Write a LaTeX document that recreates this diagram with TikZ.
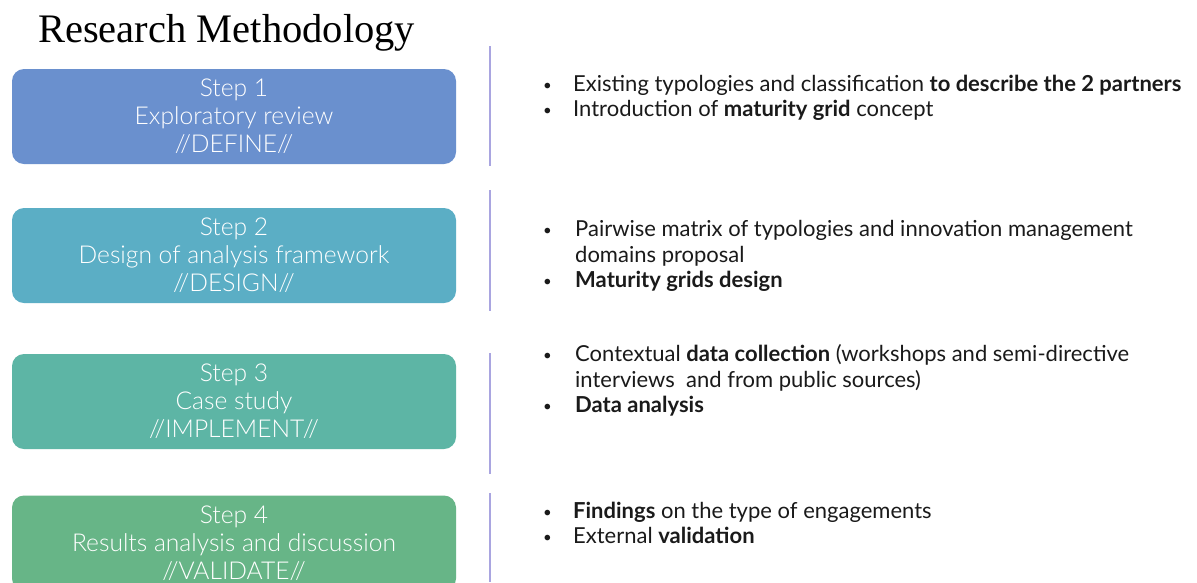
\documentclass[tikz,border=0pt]{standalone}
\usepackage{fontspec}
\setmainfont{Lato}
\newfontfamily\boxfont{Lato Light}
\newfontfamily\titlefont{Liberation Serif}
\definecolor{cone}{HTML}{6A90CE}
\definecolor{ctwo}{HTML}{5BAEC5}
\definecolor{cthree}{HTML}{5DB5A5}
\definecolor{cfour}{HTML}{67B587}
\definecolor{sepc}{HTML}{A9A5E0}
\definecolor{txt}{HTML}{1A1A1A}
\begin{document}
\begin{tikzpicture}[x=1pt,y=-1pt,
  stepbox/.style={rounded corners=12pt, minimum width=444pt, minimum height=95pt,
    inner sep=0pt, align=center, text=white,
    font=\boxfont\fontsize{24.6}{28}\selectfont},
  sepline/.style={draw=sepc, line width=1.3pt},
  bt/.style={anchor=base west, inner sep=0pt, text=txt,
    font=\fontsize{22}{25}\selectfont},
  bdot/.style={anchor=base west, inner sep=0pt, text=txt,
    font=\fontsize{15}{25}\selectfont}]
\useasboundingbox (0,0) rectangle (1197,582);
\clip (0,0) rectangle (1197,582);
\fill[white] (0,0) rectangle (1197,582);
\node[anchor=base west, inner sep=0pt, font=\titlefont\fontsize{40.5}{48}\selectfont] (title) at (38,42) {Research Methodology};
% boxes
\node[stepbox, fill=cone] (s1) at (234,116.5) {Step 1\\Exploratory review\\//DEFINE//};
\node[stepbox, fill=ctwo] (s2) at (234,255.5) {Step 2\\Design of analysis framework\\//DESIGN//};
\node[stepbox, fill=cthree] (s3) at (234,401.5) {Step 3\\Case study\\//IMPLEMENT//};
\node[stepbox, fill=cfour] (s4) at (234,543) {Step 4\\Results analysis and discussion\\//VALIDATE//};
% separators
\draw[sepline] (490,46) -- (490,166);
\draw[sepline] (490,190) -- (490,311);
\draw[sepline] (490,353) -- (490,474);
\draw[sepline] (490,493) -- (490,582);
% bullets 1
\node[bdot] (d11) at (543,90.5) {•};
\node[bt] (b11) at (573,91.5) {Existing typologies and classification \textbf{to describe the 2 partners}};
\node[bdot] (d12) at (543,115.5) {•};
\node[bt] (b12) at (573,116.5) {Introduction of \textbf{maturity grid} concept};
% bullets 2
\node[bdot] (d21) at (543,235.5) {•};
\node[bt] (b21) at (575,236.5) {Pairwise matrix of typologies and innovation management};
\node[bt] (b21b) at (575,262.5) {domains proposal};
\node[bdot] (d22) at (543,286.5) {•};
\node[bt] (b22) at (575,287.5) {\textbf{Maturity grids design}};
% bullets 3
\node[bdot] (d31) at (543,360.5) {•};
\node[bt] (b31) at (575,361.5) {Contextual \textbf{data collection} (workshops and semi-directive};
\node[bt] (b31b) at (575,387.5) {interviews\ \ and from public sources)};
\node[bdot] (d32) at (543,411.5) {•};
\node[bt] (b32) at (575,412.5) {\textbf{Data analysis}};
% bullets 4
\node[bdot] (d41) at (543,517.5) {•};
\node[bt] (b41) at (573,518.5) {\textbf{Findings} on the type of engagements};
\node[bdot] (d42) at (543,542.5) {•};
\node[bt] (b42) at (573,543.5) {External \textbf{validation}};
\end{tikzpicture}
\end{document}
